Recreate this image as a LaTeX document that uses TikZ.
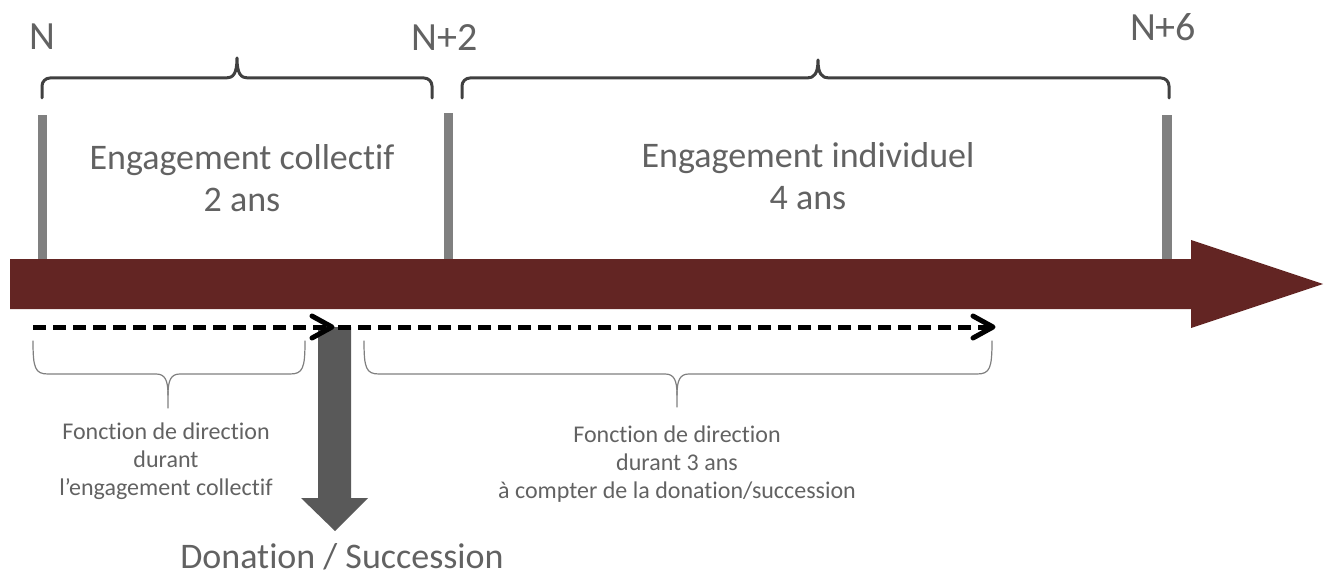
\documentclass[tikz,border=0pt]{standalone}
\usepackage{fontspec}
\setmainfont{Carlito}[Ligatures=NoCommon]
\usetikzlibrary{calc}
\definecolor{bordeaux}{HTML}{632523}
\definecolor{txtgray}{HTML}{626262}
\definecolor{bargray}{HTML}{808080}
\definecolor{bracedark}{HTML}{404040}
\definecolor{bracelight}{HTML}{7F7F7F}
\definecolor{downgray}{HTML}{595959}
\tikzset{
  yearlabel/.style={text=txtgray,font=\fontsize{40}{44}\selectfont,inner sep=0pt},
  bigtext/.style={text=txtgray,font=\fontsize{36}{42}\selectfont,align=center,inner sep=0pt},
  smalltext/.style={text=txtgray,font=\fontsize{24}{28}\selectfont,align=center,inner sep=0pt},
  yearbar/.style={fill=bargray,draw=none},
  topbrace/.style={draw=bracedark,line width=3pt,line cap=round,line join=round},
  lowbrace/.style={draw=bracelight,line width=1.2pt,line cap=round},
  dashline/.style={draw=black,line width=5pt,dash pattern=on 13pt off 7pt},
  chevron/.style={draw=black,line width=5pt,line cap=round,line join=round},
}
\begin{document}
\begin{tikzpicture}[x=1pt,y=-1pt]
\useasboundingbox (0,0) rectangle (1324,577);
% year bars
\fill[yearbar] (38,115) rectangle (47,262);
\fill[yearbar] (444,113) rectangle (453,262);
\fill[yearbar] (1162,115) rectangle (1172,262);
% main arrow
\fill[bordeaux] (10,259) -- (1191,259) -- (1191,240) -- (1323,284) -- (1191,328) -- (1191,309) -- (10,309) -- cycle;
% labels
\node[yearlabel] (n0) at (42,37) {N};
\node[yearlabel] (n2) at (445,38) {N+2};
\node[yearlabel] (n6) at (1163,27) {N+6};
% top braces
\draw[topbrace] (42,98) -- (42,86) to[out=90,in=180] (50,78) -- (226,78)
  .. controls (233,78) and (237,74) .. (237,58)
  .. controls (237,74) and (241,78) .. (248,78) -- (424,78) to[out=0,in=90] (432,86) -- (432,98);
\draw[topbrace] (462,98) -- (462,86) to[out=90,in=180] (470,78) -- (807,78)
  .. controls (814,78) and (818,74) .. (818,60)
  .. controls (818,74) and (822,78) .. (829,78) -- (1161,78) to[out=0,in=90] (1169,86) -- (1169,98);
\node[bigtext] (ec) at (242,178) {Engagement collectif\\2 ans};
\node[bigtext] (ei) at (808,176) {Engagement individuel\\4 ans};
% down arrow
\fill[downgray] (318,327) -- (351,327) -- (351,498) -- (368,498) -- (335,531) -- (301,498) -- (318,498) -- cycle;
% dashed arrows
\coordinate (d0) at (33,327);
\coordinate (d1) at (332,327);
\coordinate (d1s) at (338,327);
\coordinate (d2) at (993,327);
\draw[dashline] (d0) -- (d1);
\draw[chevron] ($(d1)+(-20,-11)$) -- (d1) -- ($(d1)+(-20,11)$);
\draw[dashline] (d1s) -- (d2);
\draw[chevron] ($(d2)+(-20,-11)$) -- (d2) -- ($(d2)+(-20,11)$);
% lower braces
\draw[lowbrace] (33,341) .. controls (33,368) and (35,374) .. (48,374) -- (156,374)
  .. controls (165,374) and (168,380) .. (168,395) -- (168,408);
\draw[lowbrace] (305,341) .. controls (305,368) and (303,374) .. (290,374) -- (180,374)
  .. controls (171,374) and (168,380) .. (168,395);
\draw[lowbrace] (364,341) .. controls (364,368) and (366,374) .. (379,374) -- (665,374)
  .. controls (674,374) and (677,380) .. (677,395) -- (677,407);
\draw[lowbrace] (992,341) .. controls (992,368) and (990,374) .. (977,374) -- (689,374)
  .. controls (680,374) and (677,380) .. (677,395);
\node[smalltext] (f1) at (166,461) {Fonction de direction\\durant\\l’engagement collectif};
\node[smalltext] (f2) at (677,464) {Fonction de direction\\durant 3 ans\\à compter de la donation/succession};
\node[bigtext] (ds) at (342,557) {Donation / Succession};
\end{tikzpicture}
\end{document}
